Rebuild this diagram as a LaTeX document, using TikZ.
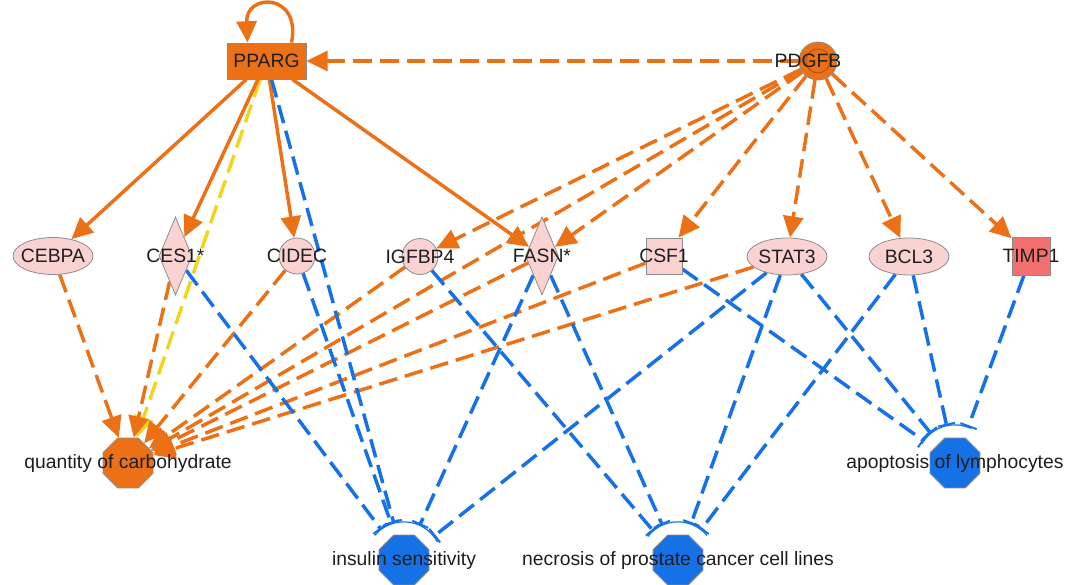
\documentclass[tikz,border=0pt]{standalone}
\usepackage{fontspec}
\setmainfont{Liberation Sans}
\usetikzlibrary{arrows.meta,shapes.geometric,calc,backgrounds}
\definecolor{ipaorange}{RGB}{236,112,22}
\definecolor{ipablue}{RGB}{22,113,230}
\definecolor{ipapink}{RGB}{250,210,210}
\definecolor{ipared}{RGB}{242,112,112}
\definecolor{ipayellow}{RGB}{240,212,30}
\definecolor{nodeline}{RGB}{140,140,140}
\definecolor{txt}{RGB}{30,30,30}
\begin{document}
\begin{tikzpicture}[x=0.75pt,y=-0.75pt,
  every label/.style={font=\fontsize{14.5}{17}\selectfont, text=txt, inner sep=0pt},
  gene/.style={draw=nodeline, line width=0.6pt, fill=ipapink, inner sep=0pt},
  ell/.style={gene, ellipse, minimum width=60pt, minimum height=27.75pt},
  circ/.style={gene, circle, minimum size=27pt},
  sq/.style={gene, rectangle, minimum size=27pt},
  dia/.style={gene, diamond, minimum width=24.75pt, minimum height=58.5pt},
  fn/.style={draw=nodeline, line width=0.6pt, regular polygon, regular polygon sides=8, minimum size=40.5pt, inner sep=0pt},
  hood/.style={circle, minimum size=57pt, inner sep=0pt},
  act/.style={draw=ipaorange, line width=2.6pt, -{Triangle[length=16pt,width=15pt]}},
  actd/.style={act, dash pattern=on 14pt off 6pt},
  yel/.style={act, draw=ipayellow, dash pattern=on 14pt off 6pt},
  inh/.style={draw=ipablue, line width=2.6pt, dash pattern=on 14pt off 6pt, -{Bar[width=13pt,line width=1.5pt]}},
  hoodarc/.style={draw=ipablue, line width=0.9pt},
]
\useasboundingbox (0,0) rectangle (1074,585);

% molecules
\node[rectangle, draw=nodeline, line width=0.6pt, fill=ipaorange, minimum width=59.25pt, minimum height=27pt, inner sep=0pt, label=center:PPARG] (pparg) at (266.5,61) {};
\node[circle, draw=nodeline, line width=0.6pt, fill=ipaorange, minimum size=28.5pt, inner sep=0pt,
  path picture={\draw[draw=ipaorange!75!black, line width=0.8pt] (path picture bounding box.center) circle[radius=9pt];},
  label={[xshift=-7.5pt]center:PDGFB}] (pdgfb) at (818,61) {};
\node[ell, label=center:CEBPA] (cebpa) at (53,256) {};
\node[dia, label=center:CES1*] (ces1) at (175.5,256) {};
\node[circ, label=center:CIDEC] (cidec) at (297,256) {};
\node[circ, label=center:IGFBP4] (igfbp4) at (420,256.5) {};
\node[dia, label=center:FASN*] (fasn) at (542,256) {};
\node[sq, label=center:CSF1] (csf1) at (664,256) {};
\node[ell, label=center:STAT3] (stat3) at (787,256.5) {};
\node[ell, label=center:BCL3] (bcl3) at (909,256.5) {};
\node[sq, fill=ipared, minimum size=28.5pt, label=center:TIMP1] (timp1) at (1031,256) {};

% functions
\node[fn, fill=ipaorange, label=center:quantity of carbohydrate] (qoc) at (128,463) {};
\node[fn, fill=ipablue, label=center:insulin sensitivity] (ins) at (404,560) {};
\node[fn, fill=ipablue, label=center:necrosis of prostate cancer cell lines] (nec) at (678,560) {};
\node[fn, fill=ipablue, label=center:apoptosis of lymphocytes] (apo) at (955,463) {};
\node[hood] (insh) at (ins.center) {};
\node[hood] (nech) at (nec.center) {};
\node[hood] (apoh) at (apo.center) {};

\begin{scope}[on background layer]
\fill[white] (0,0) rectangle (1074,585);
% PPARG
\draw[act] ($(pparg.north)+(25,0)$) .. controls +(10,-50) and +(-2,-50) .. ($(pparg.north)+(-19,0)$);
\draw[yel] (pparg) -- (qoc);
\draw[act] (pparg) -- (cebpa);
\draw[act] (pparg) -- (ces1);
\draw[act] (pparg) -- (cidec);
\draw[act] (pparg) -- (fasn);
% PDGFB
\draw[actd] (pdgfb) -- (pparg);
\draw[actd] (pdgfb) -- (igfbp4);
\draw[actd] (pdgfb) -- (fasn);
\draw[actd] (pdgfb) -- (csf1);
\draw[actd] (pdgfb) -- (stat3);
\draw[actd] (pdgfb) -- (bcl3);
\draw[actd] (pdgfb) -- (timp1);
\draw[actd] (pdgfb) -- (qoc);
% quantity of carbohydrate
\draw[actd] (cebpa) -- (qoc);
\draw[actd] (ces1) -- (qoc);
\draw[actd] (cidec) -- (qoc);
\draw[actd] (igfbp4) -- (qoc);
\draw[actd] (fasn) -- (qoc);
\draw[actd] (csf1) -- (qoc);
\draw[actd] (stat3) -- (qoc);
% insulin sensitivity
\draw[inh] (pparg) -- (insh);
\draw[inh] (ces1) -- (insh);
\draw[inh] (cidec) -- (insh);
\draw[inh] (fasn) -- (insh);
\draw[inh] (stat3) -- (insh);
% necrosis
\draw[inh] (igfbp4) -- (nech);
\draw[inh] (fasn) -- (nech);
\draw[inh] (stat3) -- (nech);
\draw[inh] (bcl3) -- (nech);
% apoptosis
\draw[inh] (csf1) -- (apoh);
\draw[inh] (stat3) -- (apoh);
\draw[inh] (bcl3) -- (apoh);
\draw[inh] (timp1) -- (apoh);
% hoods
\draw[hoodarc] (insh.140) arc[start angle=140, end angle=28, radius=28.5pt];
\draw[hoodarc] (nech.142) arc[start angle=142, end angle=40, radius=28.5pt];
\draw[hoodarc] (apoh.150) arc[start angle=150, end angle=65, radius=28.5pt];
\end{scope}
\end{tikzpicture}
\end{document}
